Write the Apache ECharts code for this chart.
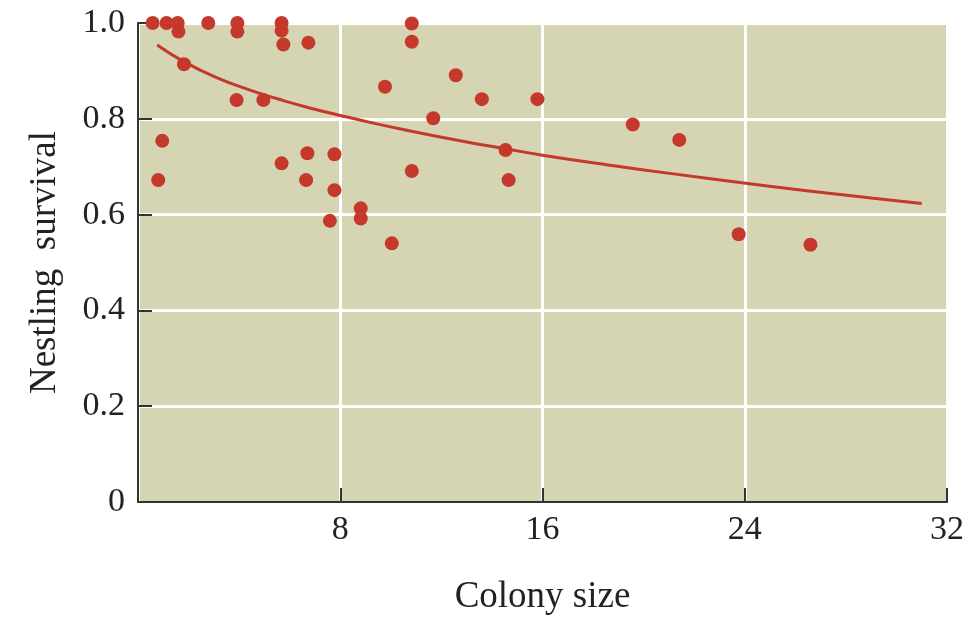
<!DOCTYPE html>
<html>
<head>
<meta charset="utf-8">
<script src="https://cdn.jsdelivr.net/npm/echarts@6/dist/echarts.min.js"></script>
<style>
 html, body { margin: 0; padding: 0; background: #fff; }
 #main { width: 977px; height: 617px; }
</style>
</head>
<body>
<div id="main"></div>
<script>
 // colony size vs nestling survival
 var colonySize = [0.58, 1.13, 1.57, 1.6, 2.78, 3.93, 3.93, 5.68, 5.68, 5.75,
                   6.74, 1.82, 3.9, 4.96, 10.83, 10.83, 9.77, 0.96, 0.8, 6.7,
                   7.77, 5.68, 6.65, 7.77, 10.83, 8.81, 8.81, 7.59, 10.04, 12.57,
                   11.68, 13.6, 15.8, 14.54, 14.66, 19.57, 21.41, 23.76, 26.6];
 var survival = [1.0, 1.0, 1.0, 0.982, 1.0, 1.0, 0.982, 1.0, 0.984, 0.955,
                 0.959, 0.914, 0.839, 0.839, 0.999, 0.961, 0.867, 0.754, 0.672, 0.728,
                 0.726, 0.707, 0.672, 0.651, 0.691, 0.613, 0.592, 0.587, 0.54, 0.891,
                 0.801, 0.841, 0.841, 0.735, 0.672, 0.788, 0.756, 0.559, 0.537];

 // fitted curve, traced point by point
 var fitX = [0.76, 1.79, 3.11, 4.43, 5.75, 7.07, 8.0, 9.31, 10.63, 11.95,
             13.26, 14.58, 16.0, 18.54, 21.18, 23.81, 26.45, 29.09, 31.0];
 var fitY = [0.954, 0.920, 0.886, 0.860, 0.838, 0.819, 0.807, 0.791, 0.776, 0.762,
             0.749, 0.737, 0.724, 0.704, 0.685, 0.667, 0.650, 0.634, 0.623];

 var xTicks = [0, 8, 16, 24, 32];
 var yTicks = [0, 0.2, 0.4, 0.6, 0.8, 1.0];

 var serif = '"Liberation Serif", "DejaVu Serif", serif';
 var red = '#c4392b';

 var points = colonySize.map(function (x, i) { return [x, survival[i]]; });
 var curve = fitX.map(function (x, i) { return [x, fitY[i]]; });

 var myChart = echarts.init(document.getElementById('main'));
 var option = {
     animation: false,
     grid: {
         left: 138,
         right: 30,
         top: 23,
         bottom: 115,
         outerBoundsMode: 'none',
         show: true,
         backgroundColor: '#d6d5b3',
         borderColor: '#ecebe2',
         borderWidth: 1
     },
     xAxis: {
         type: 'value',
         min: xTicks[0],
         max: xTicks[xTicks.length - 1],
         interval: 8,
         name: 'Colony size',
         nameLocation: 'middle',
         nameGap: 77,
         nameTextStyle: { fontFamily: serif, fontSize: 37, color: '#222' },
         axisLine: { lineStyle: { color: '#333', width: 2 } },
         axisTick: { show: true, inside: true, length: 14, lineStyle: { color: '#333', width: 2 } },
         axisLabel: {
             fontFamily: serif, fontSize: 34, color: '#222', margin: 11,
             formatter: function (v) { return v === 0 ? '' : String(v); }
         },
         splitLine: { show: true, lineStyle: { color: '#ffffff', width: 3 } }
     },
     yAxis: {
         type: 'value',
         min: yTicks[0],
         max: yTicks[yTicks.length - 1],
         interval: 0.2,
         name: 'Nestling  survival',
         nameLocation: 'middle',
         nameRotate: 90,
         nameGap: 74,
         nameTextStyle: { fontFamily: serif, fontSize: 37, color: '#222' },
         axisLine: { show: true, lineStyle: { color: '#333', width: 2 } },
         axisTick: { show: true, inside: true, length: 14, lineStyle: { color: '#333', width: 2 } },
         axisLabel: {
             fontFamily: serif, fontSize: 34, color: '#222', margin: 13,
             formatter: function (v) { return v === 0 ? '0' : v.toFixed(1); }
         },
         splitLine: { show: true, lineStyle: { color: '#ffffff', width: 3 } }
     },
     series: [
         {
             type: 'line',
             data: curve,
             smooth: true,
             showSymbol: false,
             lineStyle: { color: red, width: 3 },
             z: 2
         },
         {
             type: 'scatter',
             data: points,
             symbolSize: 14,
             clip: false,
             itemStyle: { color: red, opacity: 1 },
             z: 3
         }
     ]
 };
 myChart.setOption(option);
</script>
</body>
</html>
